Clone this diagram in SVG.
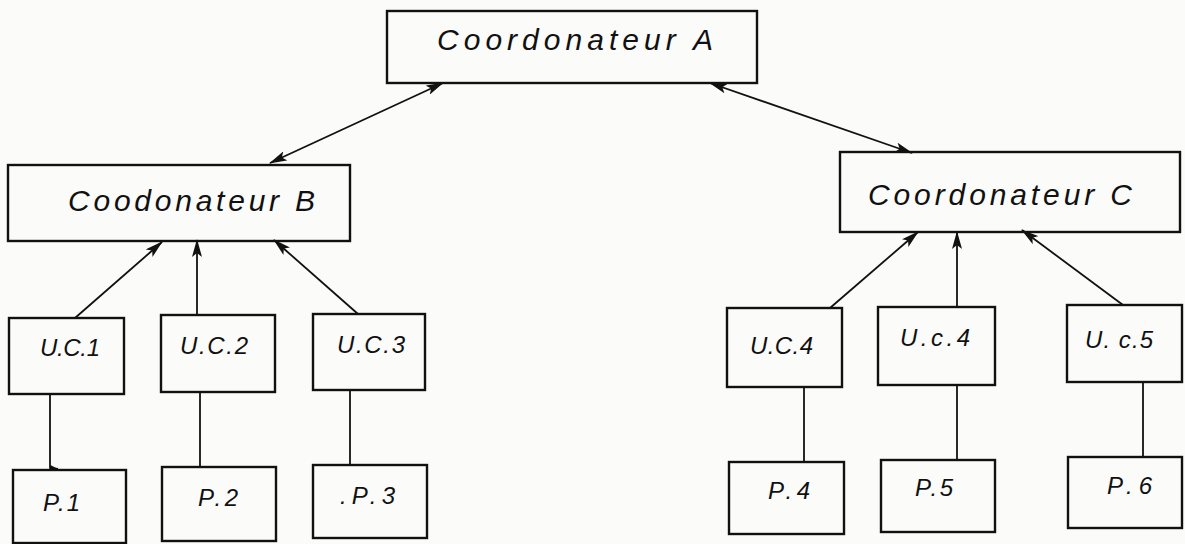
<svg xmlns="http://www.w3.org/2000/svg" width="1185" height="544" viewBox="0 0 1185 544">
<style>
.box{fill:none;stroke:#111;stroke-width:2.4}
.lbl{font-family:"Liberation Sans",Arial,sans-serif;font-style:italic;fill:#111}
.big{font-size:30px}
.mid{font-size:24px}
.con{stroke:#111;stroke-width:1.8;fill:none}
</style>
<defs>
<marker id="ah" markerUnits="userSpaceOnUse" markerWidth="18" markerHeight="10" refX="17" refY="5" orient="auto-start-reverse">
<path d="M0,0 L18,5 L0,10 L4,5 Z" fill="#111"/>
</marker>
<marker id="sm" markerUnits="userSpaceOnUse" markerWidth="8" markerHeight="6" refX="8" refY="3" orient="auto">
<path d="M0,0 L8,3 L0,6 Z" fill="#111"/>
</marker>
</defs>
<rect width="1185" height="544" fill="#fbfbfa"/>
<g id="connectors">
<line class="con" x1="443" y1="83" x2="270" y2="163" marker-start="url(#ah)" marker-end="url(#ah)"/>
<line class="con" x1="710" y1="83" x2="912" y2="153" marker-start="url(#ah)" marker-end="url(#ah)"/>
<line class="con" x1="75" y1="318" x2="162" y2="242" marker-end="url(#ah)"/>
<line class="con" x1="197" y1="315" x2="197" y2="240" marker-end="url(#ah)"/>
<line class="con" x1="358" y1="314" x2="274" y2="240" marker-end="url(#ah)"/>
<line class="con" x1="830" y1="308" x2="918" y2="232" marker-end="url(#ah)"/>
<line class="con" x1="957" y1="307" x2="957" y2="232" marker-end="url(#ah)"/>
<line class="con" x1="1123" y1="305" x2="1022" y2="230" marker-end="url(#ah)"/>
<path class="con" d="M50,394 L50,468 L58,469" marker-end="url(#sm)"/>
<line class="con" x1="200" y1="392" x2="200" y2="467"/>
<line class="con" x1="350" y1="390" x2="350" y2="465"/>
<line class="con" x1="804" y1="387" x2="804" y2="462"/>
<line class="con" x1="957" y1="385" x2="957" y2="460"/>
<line class="con" x1="1143" y1="382" x2="1143" y2="457"/>
</g>
<g id="coordA">
<rect class="box" x="387" y="11" width="370" height="72"/>
<text class="lbl big" x="437" y="50" textLength="276" lengthAdjust="spacing">Coordonateur A</text>
</g>
<g id="coordB">
<rect class="box" x="8" y="165" width="342" height="76"/>
<text class="lbl big" x="68" y="211" textLength="247" lengthAdjust="spacing">Coodonateur B</text>
</g>
<g id="coordC">
<rect class="box" x="840" y="152" width="340" height="80"/>
<text class="lbl big" x="868" y="205" textLength="264" lengthAdjust="spacing">Coordonateur C</text>
</g>
<g id="uc1">
<rect class="box" x="9" y="318" width="115" height="76"/>
<text class="lbl mid" x="40" y="356" textLength="60" lengthAdjust="spacing">U.C.1</text>
</g>
<g id="uc2">
<rect class="box" x="161" y="315" width="114" height="77"/>
<text class="lbl mid" x="180" y="354" textLength="68" lengthAdjust="spacing">U.C.2</text>
</g>
<g id="uc3">
<rect class="box" x="313" y="314" width="112" height="76"/>
<text class="lbl mid" x="337" y="353" textLength="68" lengthAdjust="spacing">U.C.3</text>
</g>
<g id="uc4">
<rect class="box" x="727" y="308" width="115" height="79"/>
<text class="lbl mid" x="750" y="354" textLength="63" lengthAdjust="spacing">U.C.4</text>
</g>
<g id="uc4b">
<rect class="box" x="878" y="307" width="117" height="78"/>
<text class="lbl mid" x="900" y="346" textLength="70" lengthAdjust="spacing">U.c.4</text>
</g>
<g id="uc5">
<rect class="box" x="1067" y="305" width="115" height="77"/>
<text class="lbl mid" x="1085" y="348" textLength="68" lengthAdjust="spacing">U. c.5</text>
</g>
<g id="p1">
<rect class="box" x="13" y="470" width="113" height="73"/>
<text class="lbl mid" x="43" y="511" textLength="37" lengthAdjust="spacing">P.1</text>
</g>
<g id="p2">
<rect class="box" x="162" y="467" width="114" height="74"/>
<text class="lbl mid" x="198" y="506" textLength="40" lengthAdjust="spacing">P.2</text>
</g>
<g id="p3">
<rect class="box" x="313" y="465" width="114" height="73"/>
<text class="lbl mid" x="340" y="504" textLength="55" lengthAdjust="spacing">.P.3</text>
</g>
<g id="p4">
<rect class="box" x="729" y="462" width="115" height="72"/>
<text class="lbl mid" x="768" y="499" textLength="42" lengthAdjust="spacing">P.4</text>
</g>
<g id="p5">
<rect class="box" x="881" y="460" width="114" height="72"/>
<text class="lbl mid" x="915" y="496" textLength="38" lengthAdjust="spacing">P.5</text>
</g>
<g id="p6">
<rect class="box" x="1068" y="457" width="114" height="71"/>
<text class="lbl mid" x="1107" y="494" textLength="45" lengthAdjust="spacing">P.6</text>
</g>
</svg>
